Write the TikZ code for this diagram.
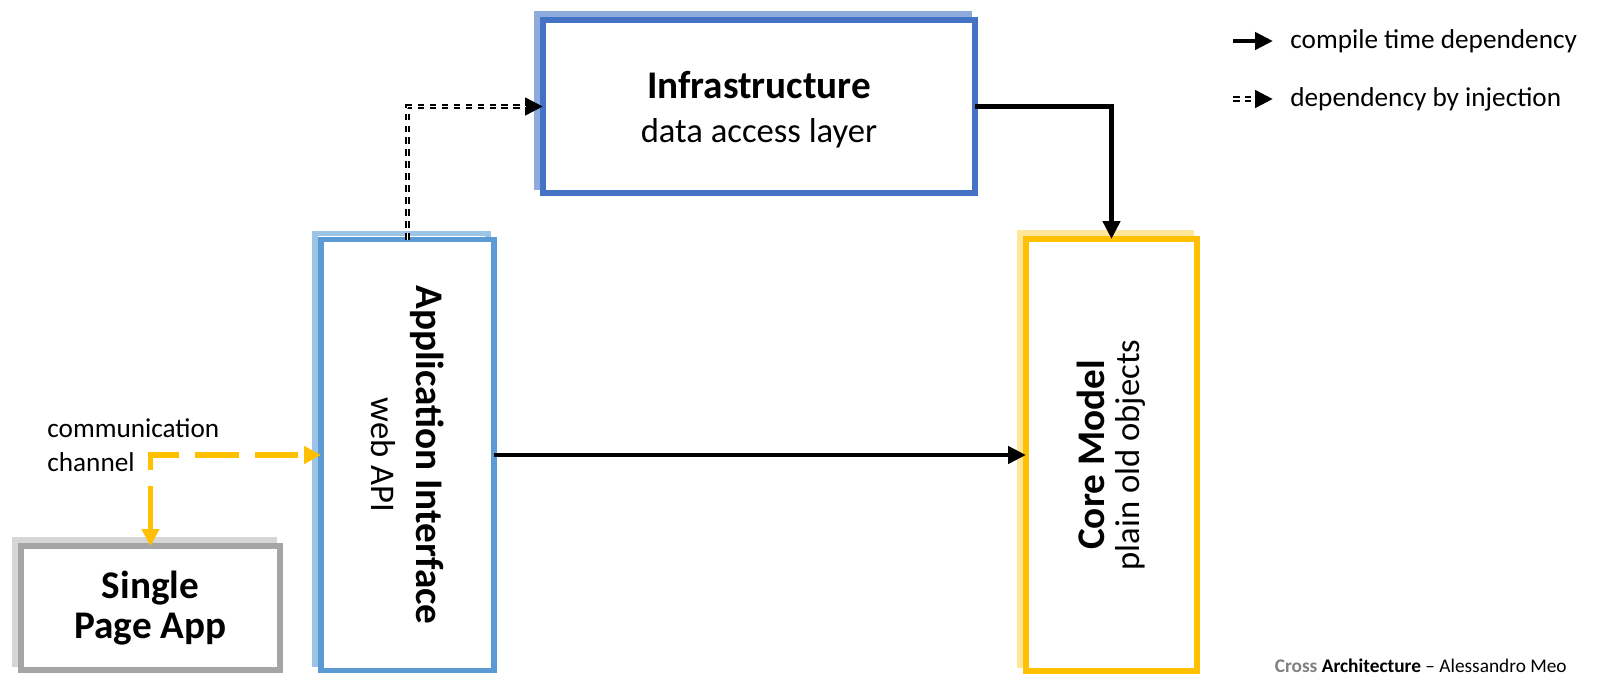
\documentclass[tikz,border=0pt]{standalone}
\usepackage{fontspec}
\setmainfont{Carlito}
\usetikzlibrary{arrows.meta}
\definecolor{infraD}{HTML}{4472C4}
\definecolor{infraL}{HTML}{8FAADC}
\definecolor{apiD}{HTML}{5B9BD5}
\definecolor{apiL}{HTML}{9DC3E6}
\definecolor{coreD}{HTML}{FFC000}
\definecolor{coreL}{HTML}{FFE699}
\definecolor{spaD}{HTML}{A5A5A5}
\definecolor{spaL}{HTML}{D6D6D6}
\newcommand\boxtitle[1]{{\bfseries\fontsize{22.3}{25}\selectfont #1}}
\tikzset{
  layer/.style 2 args={draw=#1,fill=white,line width=3.1pt,outer sep=0pt,inner sep=0pt,
    preaction={draw=#2,line width=3.1pt,transform canvas={shift={(-0.12cm,0.12cm)}}}},
  sub/.style={font=\fontsize{19.7}{#1}\selectfont,align=center,inner sep=0pt},
  legend/.style={font=\fontsize{15.5}{19.3}\selectfont,inner sep=0pt},
  dep/.style={line width=2.8pt,-{Triangle[length=10.2pt,width=9.6pt]}},
  inj/.style={line width=3.2pt,dash pattern=on 3.7pt off 3.1pt,-{Triangle[length=10.2pt,width=9.6pt]},
    postaction={draw=white,line width=1pt,dash pattern=on 3.7pt off 3.1pt,-,shorten >=10pt}},
  chan/.style={draw=coreD,line width=3.1pt,dash pattern=on 24.9pt off 9.1pt,
    {Triangle[length=9.6pt,width=9.6pt]}-{Triangle[length=9.6pt,width=9.6pt]}}
}
\begin{document}
\begin{tikzpicture}[x=0.02cm,y=-0.02cm]
\useasboundingbox (0,0) rectangle (1602,687);
\node[layer={infraD}{infraL},minimum width=8.64cm,minimum height=3.46cm] (infra) at (759,106.5) {};
\node[layer={apiD}{apiL},minimum width=3.46cm,minimum height=8.62cm] (api) at (407.5,455) {};
\node[layer={coreD}{coreL},minimum width=3.42cm,minimum height=8.64cm] (core) at (1111.5,455) {};
\node[layer={spaD}{spaL},minimum width=5.18cm,minimum height=2.48cm,align=center,
  font=\bfseries\fontsize{22.3}{22.7}\selectfont] (spa) at (150.5,608) {Single\\Page App};
\node[sub=24.9] (infraT) at (759,110) {\boxtitle{Infrastructure}\\data access layer};
\node[sub=26,rotate=-90] (apiT) at (api) {\boxtitle{Application Interface}\\web API};
\node[sub=19.8,rotate=90] (coreT) at (core) {\boxtitle{Core Model}\\plain old objects};
\draw[dep] (infra.east) -| (core.north);
\draw[dep] (api.east) -- (core.west);
\draw[inj] (api.north) |- (infra.west);
\draw[chan] (spa.north) |- (api.west);
\node[legend,align=left,anchor=base west] (chanT) at (47,471) {communication\\channel};
\foreach \n/\y/\s/\t in {lgdep/41/dep/compile time dependency,lginj/99/inj/dependency by injection}{
  \node[legend,anchor=west] (\n) at (1290,\y) {\t};
  \draw[\s] ([xshift=-1.14cm]\n.west) -- ([xshift=-0.34cm]\n.west);
}
\node[anchor=base east,inner sep=0pt,font=\fontsize{11}{13}\selectfont] (credit) at (1567,672)
  {\textcolor{gray}{\textbf{Cross}} \textbf{Architecture} -- Alessandro Meo};
\end{tikzpicture}
\end{document}
